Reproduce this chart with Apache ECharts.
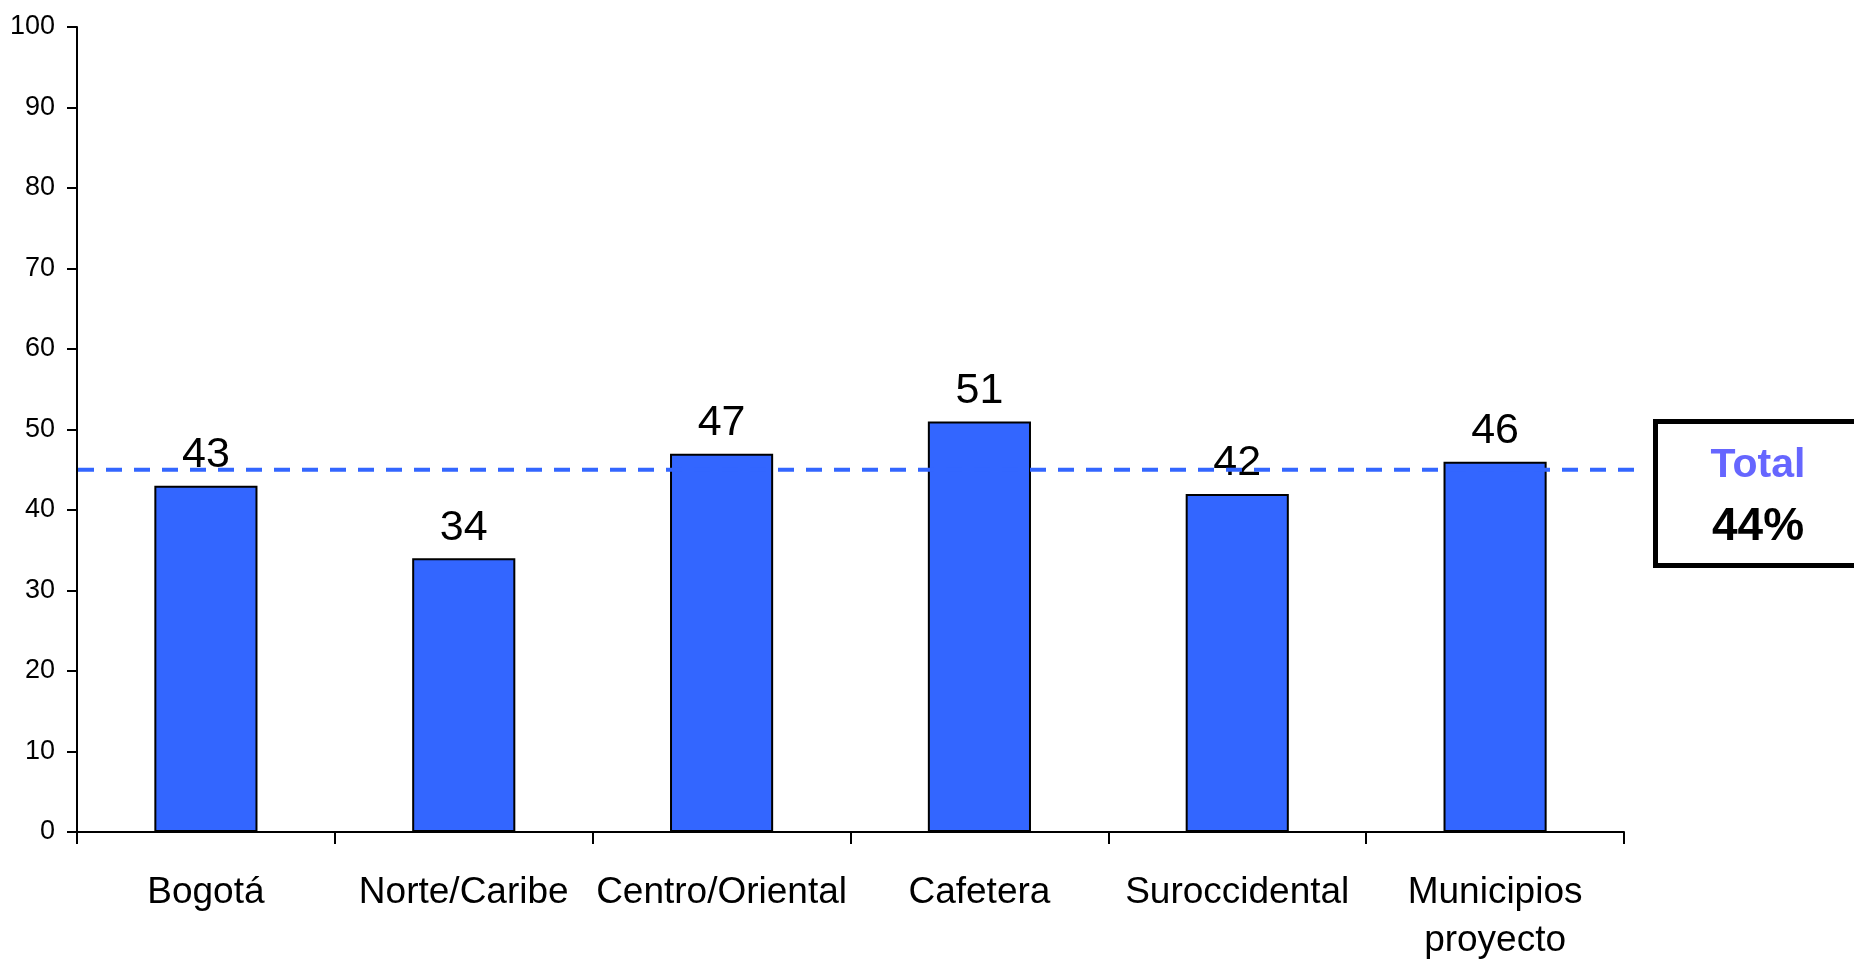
<!DOCTYPE html>
<html>
<head>
<meta charset="utf-8">
<script src="https://cdn.jsdelivr.net/npm/echarts@6/dist/echarts.min.js"></script>
<style>
html,body{margin:0;padding:0;background:#fff;}
#c{width:1854px;height:966px;}
</style>
</head>
<body>
<div id="c"></div>
<script>
const categories = ['Bogotá', 'Norte/Caribe', 'Centro/Oriental', 'Cafetera', 'Suroccidental', 'Municipios\nproyecto'];
const values = [43, 34, 47, 51, 42, 46];
const yTicks = [0, 10, 20, 30, 40, 50, 60, 70, 80, 90, 100];
const totalLineValue = 45;
const totalTitle = 'Total';
const totalText = '44%';

const FONT = "'Liberation Sans', Arial, sans-serif";

const chart = echarts.init(document.getElementById('c'), null, {renderer: 'canvas'});
chart.setOption({
  animation: false,
  backgroundColor: '#ffffff',
  grid: {left: 77, top: 27, width: 1547, height: 805, containLabel: false},
  xAxis: {
    type: 'category',
    data: categories,
    axisLine: {lineStyle: {color: '#000', width: 2}},
    axisTick: {show: true, length: 12, interval: 0, alignWithLabel: false, lineStyle: {color: '#000', width: 2}},
    axisLabel: {
      interval: 0, margin: 37, color: '#000', fontFamily: FONT, fontSize: 37, lineHeight: 48
    }
  },
  yAxis: {
    type: 'value',
    min: yTicks[0],
    max: yTicks[yTicks.length - 1],
    interval: 10,
    splitLine: {show: false},
    axisLine: {show: true, lineStyle: {color: '#000', width: 2}},
    axisTick: {show: true, length: 10, lineStyle: {color: '#000', width: 2}},
    axisLabel: {margin: 22, color: '#000', fontFamily: FONT, fontSize: 27}
  },
  series: [{
    type: 'bar',
    data: values,
    barWidth: '40%',
    itemStyle: {color: '#3366FF', borderColor: '#000', borderWidth: 2},
    label: {
      show: true, position: 'top', distance: 9,
      color: '#000', fontFamily: FONT, fontSize: 43
    }
  }]
});

const yPix = chart.convertToPixel({yAxisIndex: 0}, totalLineValue);
chart.setOption({
  graphic: [
    {
      type: 'line', z: 5,
      shape: {x1: 78, y1: yPix, x2: 1643, y2: yPix},
      style: {stroke: '#3366FF', lineWidth: 4, lineDash: [16, 12]}
    },
    {
      type: 'rect', z: 5,
      shape: {x: 1655.5, y: 421.5, width: 260, height: 144},
      style: {fill: '#fff', stroke: '#000', lineWidth: 5}
    },
    {
      type: 'text', z: 6, x: 1758, y: 466,
      style: {text: totalTitle, fill: '#6666FF', font: "bold 41px " + FONT, align: 'center', verticalAlign: 'middle'}
    },
    {
      type: 'text', z: 6, x: 1758, y: 527,
      style: {text: totalText, fill: '#000', font: "bold 46px " + FONT, align: 'center', verticalAlign: 'middle'}
    }
  ]
});
</script>
</body>
</html>
